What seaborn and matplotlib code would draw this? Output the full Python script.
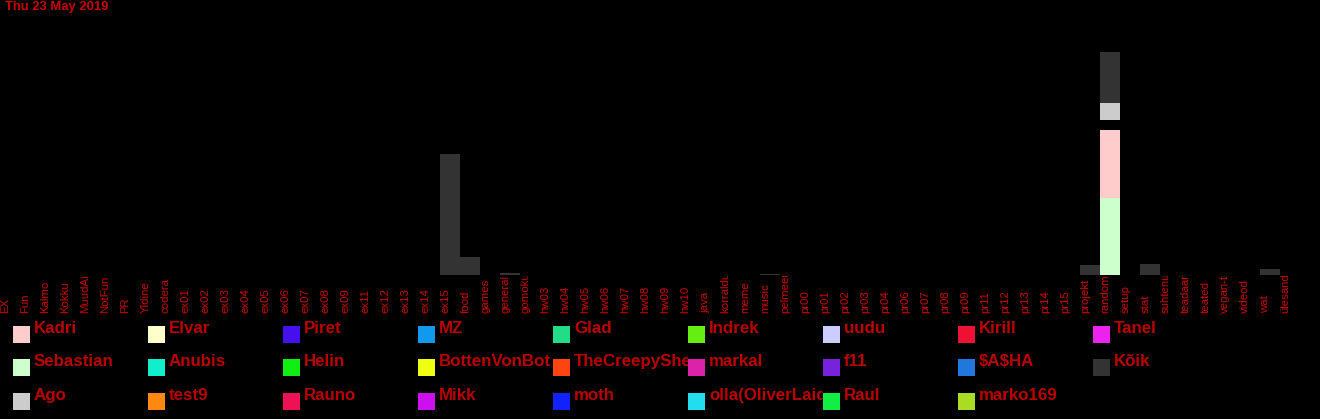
#!/usr/bin/env python3
"""Daily chat activity per channel, stacked by user (Thu 23 May 2019)."""
import pandas as pd
import matplotlib
matplotlib.use("Agg")
import matplotlib.pyplot as plt
import seaborn as sns
from matplotlib.patches import Rectangle
from matplotlib.transforms import Bbox, blended_transform_factory

# Data
TITLE = "Thu 23 May 2019"

channels = [
    "EX", "Fun", "Kalmo", "Kokku", "MuudAi", "NotFun", "PR", "Yldine", "codera",
    "ex01", "ex02", "ex03", "ex04", "ex05", "ex06", "ex07", "ex08", "ex09",
    "ex11", "ex12", "ex13", "ex14", "ex15", "food", "games", "general", "gomoku",
    "hw03", "hw04", "hw05", "hw06", "hw07", "hw08", "hw09", "hw10", "java",
    "korraldus", "meme", "music", "pelmeenid", "pr00", "pr01", "pr02", "pr03",
    "pr04", "pr06", "pr07", "pr08", "pr09", "pr11", "pr12", "pr13", "pr14",
    "pr15", "projekt", "random", "setup", "stat", "suhtenumbrid", "teadaanded",
    "teated", "vegan-toit", "videod", "wat", "ülesanded",
]

# "Kõik" (everyone) totals per channel
koik_channels = ["ex15", "food", "general", "music", "projekt", "random", "stat", "wat"]
koik_values = [121, 18, 2.5, 1, 10, 51, 11, 6]

# per-user values in #random (bottom to top, "_gap" is an unlisted black user)
random_users = ["Sebastian", "Kadri", "_gap", "Ago"]
random_values = [77, 68, 10, 17]

users = [
    "Kadri", "Sebastian", "Ago", "Elvar", "Anubis", "test9", "Piret", "Helin",
    "Rauno", "MZ", "BottenVonBot", "Mikk", "Glad", "TheCreepySheep", "moth",
    "Indrek", "markal", "olla(OliverLaidma)", "uudu", "f11", "Raul", "Kirill",
    "$A$HA", "marko169", "Tanel", "Kõik",
]
user_colors = [
    "#ffcccc", "#ccffcc", "#cccccc", "#ffffcc", "#11eecc", "#ff8811", "#4411ee",
    "#11ee11", "#ee1155", "#1199ee", "#eeff11", "#cc11ee", "#22dd88", "#ff4411",
    "#1122ff", "#66ee11", "#dd22aa", "#22ddee", "#ccccff", "#7722dd", "#11ee44",
    "#ee1133", "#2277dd", "#aadd22", "#ee22ee", "#333333",
]

TEXT_RED = "#cc0000"
W, H = 1320, 419


def build_frame():
    rows = [{"channel": c, "user": "Kõik", "value": 0.0} for c in channels]
    rows += [{"channel": c, "user": "Kõik", "value": v}
             for c, v in zip(koik_channels, koik_values)]
    rows += [{"channel": "random", "user": u, "value": v}
             for u, v in zip(random_users, random_values)]
    df = pd.DataFrame(rows)
    df["channel"] = pd.Categorical(df["channel"], categories=channels)
    return df


def main():
    df = build_frame()
    palette = dict(zip(users, user_colors))
    palette["_gap"] = "#000000"
    # seaborn stacks the first hue level on top
    hue_order = ["Kõik"] + random_users[::-1]

    sns.set_theme(style="white")
    plt.rcParams["font.family"] = ["Liberation Sans", "DejaVu Sans"]

    fig = plt.figure(figsize=(W / 100, H / 100), dpi=100, facecolor="black")
    ax = fig.add_axes([0, (H - 275) / H, 1300 / W, 255 / H])
    ax.set_facecolor("black")

    sns.histplot(data=df, x="channel", weights="value", hue="user",
                 hue_order=hue_order, palette=palette, multiple="stack",
                 discrete=True, shrink=1, linewidth=0, alpha=1,
                 legend=False, ax=ax)

    ax.set_xlim(-0.5, len(channels) - 0.5)
    ax.set_ylim(0, 255)
    ax.set_xticks([])
    ax.set_yticks([])
    ax.set_xlabel("")
    ax.set_ylabel("")
    for s in ax.spines.values():
        s.set_visible(False)

    # channel labels, bottom aligned and clipped at the bar baseline
    trans = blended_transform_factory(ax.transData, fig.transFigure)
    clip = Bbox.from_extents(0, 0, W, H - 276)
    for i, name in enumerate(channels):
        fig.text(i - 0.23, (H - 313) / H, name, transform=trans, rotation=90,
                 ha="center", va="bottom", fontsize=8.2, color=TEXT_RED,
                 clip_on=True, clip_box=clip)

    fig.text(5 / W, 1 - 1 / H, TITLE, ha="left", va="top", fontsize=9.4,
             fontweight="bold", color=TEXT_RED)

    # legend: 9 columns, filled column by column
    for idx, (name, color) in enumerate(zip(users, user_colors)):
        col, row = divmod(idx, 3)
        x0 = 13 + col * 135
        y0 = 326 + row * 33.3
        fig.patches.append(Rectangle((x0 / W, 1 - (y0 + 17) / H), 17 / W, 17 / H,
                                     transform=fig.transFigure, color=color,
                                     linewidth=0))
        fig.text((x0 + 21) / W, 1 - (y0 + 7) / H, name, ha="left",
                 va="baseline", fontsize=12.2, fontweight="bold",
                 color="#bb0000", parse_math=False,
                 clip_on=True,
                 clip_box=Bbox.from_extents(0, 0, x0 + 135, H))

    fig.savefig("out.png", dpi=100, facecolor="black")
    plt.close(fig)


if __name__ == "__main__":
    main()
